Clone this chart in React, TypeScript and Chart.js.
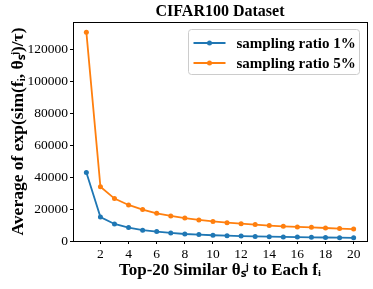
import React, { useEffect, useRef } from "react";
import { Chart, registerables } from "chart.js";

Chart.register(...registerables);

const xValues = [1, 2, 3, 4, 5, 6, 7, 8, 9, 10, 11, 12, 13, 14, 15, 16, 17, 18, 19, 20];
const ratio1 = [43000, 15000, 10700, 8400, 6800, 5900, 5050, 4400, 4000, 3600, 3350, 3100, 2900, 2700, 2550, 2450, 2300, 2200, 2100, 2000];
const ratio5 = [131000, 34000, 26600, 22600, 19700, 17400, 15700, 14400, 13200, 12300, 11500, 10900, 10300, 9700, 9200, 8800, 8550, 8150, 7800, 7500];
const seriesLabels = ["sampling ratio 1%", "sampling ratio 5%"];
const seriesColors = ["#1f77b4", "#ff7f0e"];
const xTicks = [2, 4, 6, 8, 10, 12, 14, 16, 18, 20];
const yTicks = [0, 20000, 40000, 60000, 80000, 100000, 120000];
const titleText = "CIFAR100 Dataset";
const xTitle = "Top-20 Similar θₛʲ to Each fᵢ";
const yTitle = "Average of exp(sim(fᵢ, θₛʲ)/τ)";

const SERIF = "'Liberation Serif', 'Times New Roman', serif";

const decorPlugin = {
  id: "decor",
  afterDraw(chart: any) {
    const { ctx, chartArea: a } = chart;
    ctx.save();
    // frame
    ctx.strokeStyle = "#000";
    ctx.lineWidth = 1;
    ctx.strokeRect(Math.round(a.left) + 0.5, Math.round(a.top) + 0.5, Math.round(a.right - a.left), Math.round(a.bottom - a.top));
    // title
    ctx.fillStyle = "#000";
    ctx.font = `bold 16px ${SERIF}`;
    ctx.textAlign = "center";
    ctx.textBaseline = "middle";
    ctx.fillText(titleText, (a.left + a.right) / 2, 11.5);
    // legend
    const bx = a.right - 178.5;
    const by = a.top + 7.5;
    const bw = 171;
    const bh = 45;
    ctx.beginPath();
    ctx.roundRect(bx, by, bw, bh, 3);
    ctx.fillStyle = "rgba(255,255,255,0.85)";
    ctx.fill();
    ctx.strokeStyle = "#cccccc";
    ctx.stroke();
    chart.data.datasets.forEach((ds: any, i: number) => {
      const y = by + 13.5 + i * 20;
      ctx.strokeStyle = ds.borderColor;
      ctx.lineWidth = 1.8;
      ctx.beginPath();
      ctx.moveTo(bx + 5, y);
      ctx.lineTo(bx + 37, y);
      ctx.stroke();
      ctx.fillStyle = ds.borderColor;
      ctx.beginPath();
      ctx.arc(bx + 21, y, 2.5, 0, Math.PI * 2);
      ctx.fill();
      ctx.fillStyle = "#000";
      ctx.font = `bold 15px ${SERIF}`;
      ctx.textAlign = "left";
      ctx.textBaseline = "middle";
      ctx.fillText(ds.label, bx + 48, y + 1);
    });
    ctx.restore();
  },
};

export default function App() {
  const ref = useRef<HTMLCanvasElement | null>(null);
  useEffect(() => {
    if (!ref.current) return;
    const chart = new Chart(ref.current, {
      type: "line",
      data: {
        datasets: [ratio1, ratio5].map((vals, i) => ({
          label: seriesLabels[i],
          data: xValues.map((x, j) => ({ x, y: vals[j] })),
          borderColor: seriesColors[i],
          backgroundColor: seriesColors[i],
          borderWidth: 1.8,
          pointRadius: 2.5,
          pointBorderWidth: 0,
          tension: 0,
        })),
      },
      options: {
        animation: false,
        responsive: false,
        maintainAspectRatio: false,
        layout: { padding: { top: 22, right: 6, left: 0, bottom: 0 } },
        plugins: { legend: { display: false }, tooltip: { enabled: false }, title: { display: false } },
        scales: {
          x: {
            type: "linear",
            min: 0.05,
            max: 20.95,
            afterBuildTicks: (s: any) => {
              s.ticks = xTicks.map((v) => ({ value: v }));
            },
            afterFit: (s: any) => {
              s.height = 48;
            },
            grid: { drawOnChartArea: false, color: "#000", tickLength: 3, tickWidth: 1 },
            border: { display: true, color: "#000" },
            ticks: { color: "#000", font: { family: SERIF, size: 13.5 }, padding: 2, maxRotation: 0, autoSkip: false },
            title: { display: true, text: xTitle, color: "#000", font: { family: SERIF, size: 17, weight: "bold" }, padding: { top: 0, bottom: 8 } },
          },
          y: {
            type: "linear",
            min: 0,
            max: 137400,
            afterBuildTicks: (s: any) => {
              s.ticks = yTicks.map((v) => ({ value: v }));
            },
            afterFit: (s: any) => {
              s.width = 73;
            },
            grid: { drawOnChartArea: false, color: "#000", tickLength: 3, tickWidth: 1 },
            border: { display: true, color: "#000" },
            ticks: { color: "#000", font: { family: SERIF, size: 13.5 }, padding: 2, autoSkip: false, callback: (v: any) => String(v) },
            title: { display: true, text: yTitle, color: "#000", font: { family: SERIF, size: 17.5, weight: "bold" }, padding: { top: 8, bottom: 0 } },
          },
        },
      },
      plugins: [decorPlugin],
    });
    return () => chart.destroy();
  }, []);
  return (
    <div style={{ position: "absolute", left: 0, top: 0, width: 373, height: 289, background: "#fff" }}>
      <canvas ref={ref} width={373} height={289} style={{ width: 373, height: 289, display: "block" }} />
    </div>
  );
}
